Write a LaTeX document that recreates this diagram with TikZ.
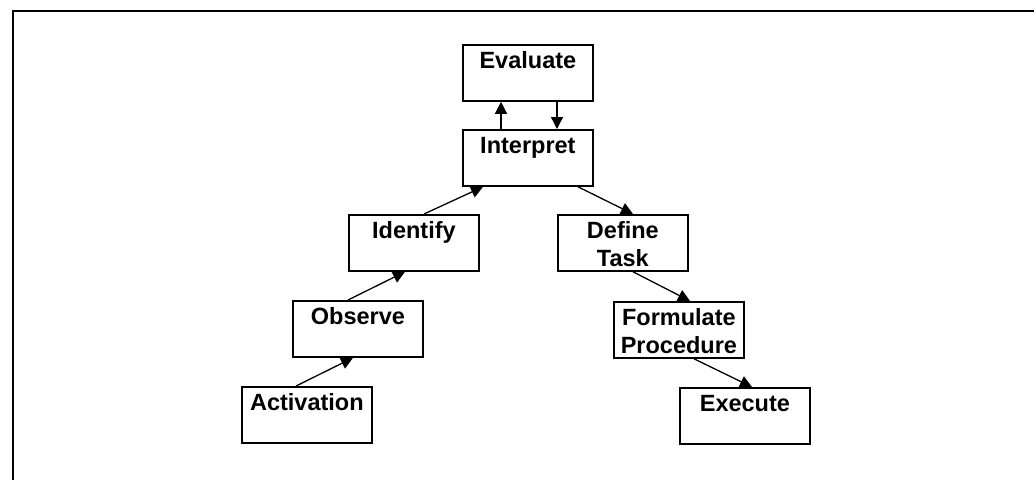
\documentclass[tikz,border=0pt]{standalone}
\usepackage{fontspec}
\setmainfont{Liberation Sans}
\usetikzlibrary{arrows.meta,calc}
\begin{document}
\begin{tikzpicture}[x=1pt,y=-1pt,
  stage/.style={draw, line width=1.8pt, anchor=north west, inner sep=0pt,
    minimum width=130pt, text width=130pt, align=center,
    text height=24pt, text depth=32pt,
    font=\fontsize{23.5}{27.5}\selectfont\bfseries},
  flow/.style={line width=1.3pt, -{Triangle[length=12pt,width=12pt]}}]
\useasboundingbox (0,0) rectangle (1034,480);
% open frame along the top and left edges
\draw[line width=2pt] (13,480) -- (13,11) -- (1034,11);

% stages
\node[stage] (eval) at (462,44)  {Evaluate};
\node[stage] (intp) at (462,129) {Interpret};
\node[stage] (iden) at (348,214) {Identify};
\node[stage] (obs)  at (292,300) {Observe};
\node[stage] (act)  at (241,386) {Activation};
\node[stage] (def)  at (557,214) {Define\\Task};
\node[stage] (form) at (613,301) {Formulate\\Procedure};
\node[stage] (exe)  at (679,387) {Execute};

% connectors
\draw[flow] ($(intp.north west)+(39,0)$) -- ($(eval.south west)+(39,0)$);
\draw[flow] ($(eval.south west)+(95,0)$) -- ($(intp.north west)+(95,0)$);
\draw[flow] ($(act.north west)+(55,0)$) -- ($(obs.south west)+(61,0)$);
\draw[flow] ($(obs.north west)+(56,0)$) -- ($(iden.south west)+(57,0)$);
\draw[flow] ($(iden.north west)+(76,0)$) -- ($(intp.south west)+(21,0)$);
\draw[flow] ($(intp.south west)+(116,0)$) -- ($(def.north west)+(76,0)$);
\draw[flow] ($(def.south west)+(76,0)$) -- ($(form.north west)+(77,0)$);
\draw[flow] ($(form.south west)+(81,0)$) -- ($(exe.north west)+(73,0)$);
\end{tikzpicture}
\end{document}
